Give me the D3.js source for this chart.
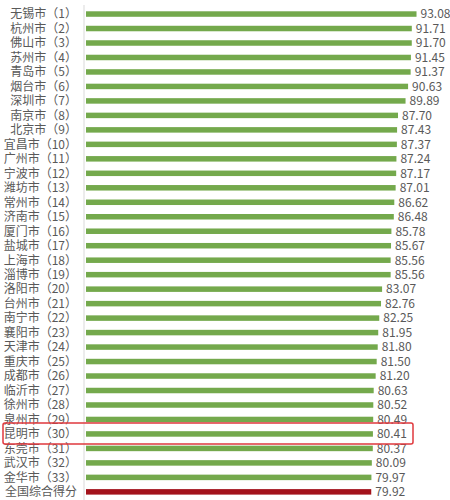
<!DOCTYPE html>
<html>
<head>
<meta charset="utf-8">
<script src="https://cdn.jsdelivr.net/npm/d3@7"></script>
<style>
  html, body { margin: 0; padding: 0; background: #fff; }
  svg { display: block; }
</style>
</head>
<body>
<svg id="chart" width="450" height="500"></svg>
<script>
'use strict';

/* ── data ────────────────────────────────── */
const cities = [
  '无锡市（1）', '杭州市（2）', '佛山市（3）', '苏州市（4）', '青岛市（5）',
  '烟台市（6）', '深圳市（7）', '南京市（8）', '北京市（9）', '宜昌市（10）',
  '广州市（11）', '宁波市（12）', '潍坊市（13）', '常州市（14）', '济南市（15）',
  '厦门市（16）', '盐城市（17）', '上海市（18）', '淄博市（19）', '洛阳市（20）',
  '台州市（21）', '南宁市（22）', '襄阳市（23）', '天津市（24）', '重庆市（25）',
  '成都市（26）', '临沂市（27）', '徐州市（28）', '泉州市（29）', '昆明市（30）',
  '东莞市（31）', '武汉市（32）', '金华市（33）', '全国综合得分'
];
const scores = [
  93.08, 91.71, 91.70, 91.45, 91.37, 90.63, 89.89, 87.70, 87.43, 87.37,
  87.24, 87.17, 87.01, 86.62, 86.48, 85.78, 85.67, 85.56, 85.56, 83.07,
  82.76, 82.25, 81.95, 81.80, 81.50, 81.20, 80.63, 80.52, 80.49, 80.41,
  80.37, 80.09, 79.97, 79.92
];
const nationalLabel = '全国综合得分';
const highlightCity = '昆明市（30）';

const rows = cities.map((c, i) => ({ name: c, value: scores[i] }));

/* ── layout ──────────────────────────────── */
const svg = d3.select('#chart');
const x0 = 86;

const x = d3.scaleLinear().domain([-3, 94]).range([x0, x0 + 97 * 3.44]);
const y = d3.scaleBand().domain(cities).range([6.8, 499.1]).padding(0);
const barH = 5.5;

const green = '#74a94c';
const red   = '#a3121b';
const text  = '#595959';
const font  = "'Noto Sans CJK SC', 'Noto Sans', sans-serif";

/* ── axis line ───────────────────────────── */
svg.append('line')
  .attr('x1', 84).attr('x2', 84)
  .attr('y1', 5).attr('y2', 500)
  .attr('stroke', '#d9d9d9')
  .attr('stroke-width', 1);

/* ── bars ────────────────────────────────── */
svg.append('g').selectAll('rect').data(rows).join('rect')
  .attr('x', x(-3))
  .attr('y', d => y(d.name) + y.bandwidth() / 2 - barH / 2)
  .attr('width', d => x(d.value) - x(-3))
  .attr('height', barH)
  .attr('fill', d => d.name === nationalLabel ? red : green);

/* ── category labels ─────────────────────── */
svg.append('g').selectAll('text').data(rows).join('text')
  .attr('x', 77)
  .attr('y', d => y(d.name) + y.bandwidth() / 2)
  .attr('dy', '0.36em')
  .attr('text-anchor', 'end')
  .attr('font-family', font)
  .attr('font-size', '12px')
  .attr('fill', text)
  .text(d => d.name);

/* ── value labels ────────────────────────── */
svg.append('g').selectAll('text').data(rows).join('text')
  .attr('x', d => x(d.value) + 4)
  .attr('y', d => y(d.name) + y.bandwidth() / 2)
  .attr('dy', '0.36em')
  .attr('font-family', font)
  .attr('font-size', '12px')
  .attr('fill', text)
  .text(d => d.value.toFixed(2));

/* ── highlight box ───────────────────────── */
const hy = y(highlightCity) + y.bandwidth() / 2;
svg.append('rect')
  .attr('x', 3)
  .attr('y', hy - 11)
  .attr('width', 410)
  .attr('height', 21)
  .attr('rx', 2)
  .attr('fill', 'none')
  .attr('stroke', '#e0393e')
  .attr('stroke-width', 1.5);
</script>
</body>
</html>
